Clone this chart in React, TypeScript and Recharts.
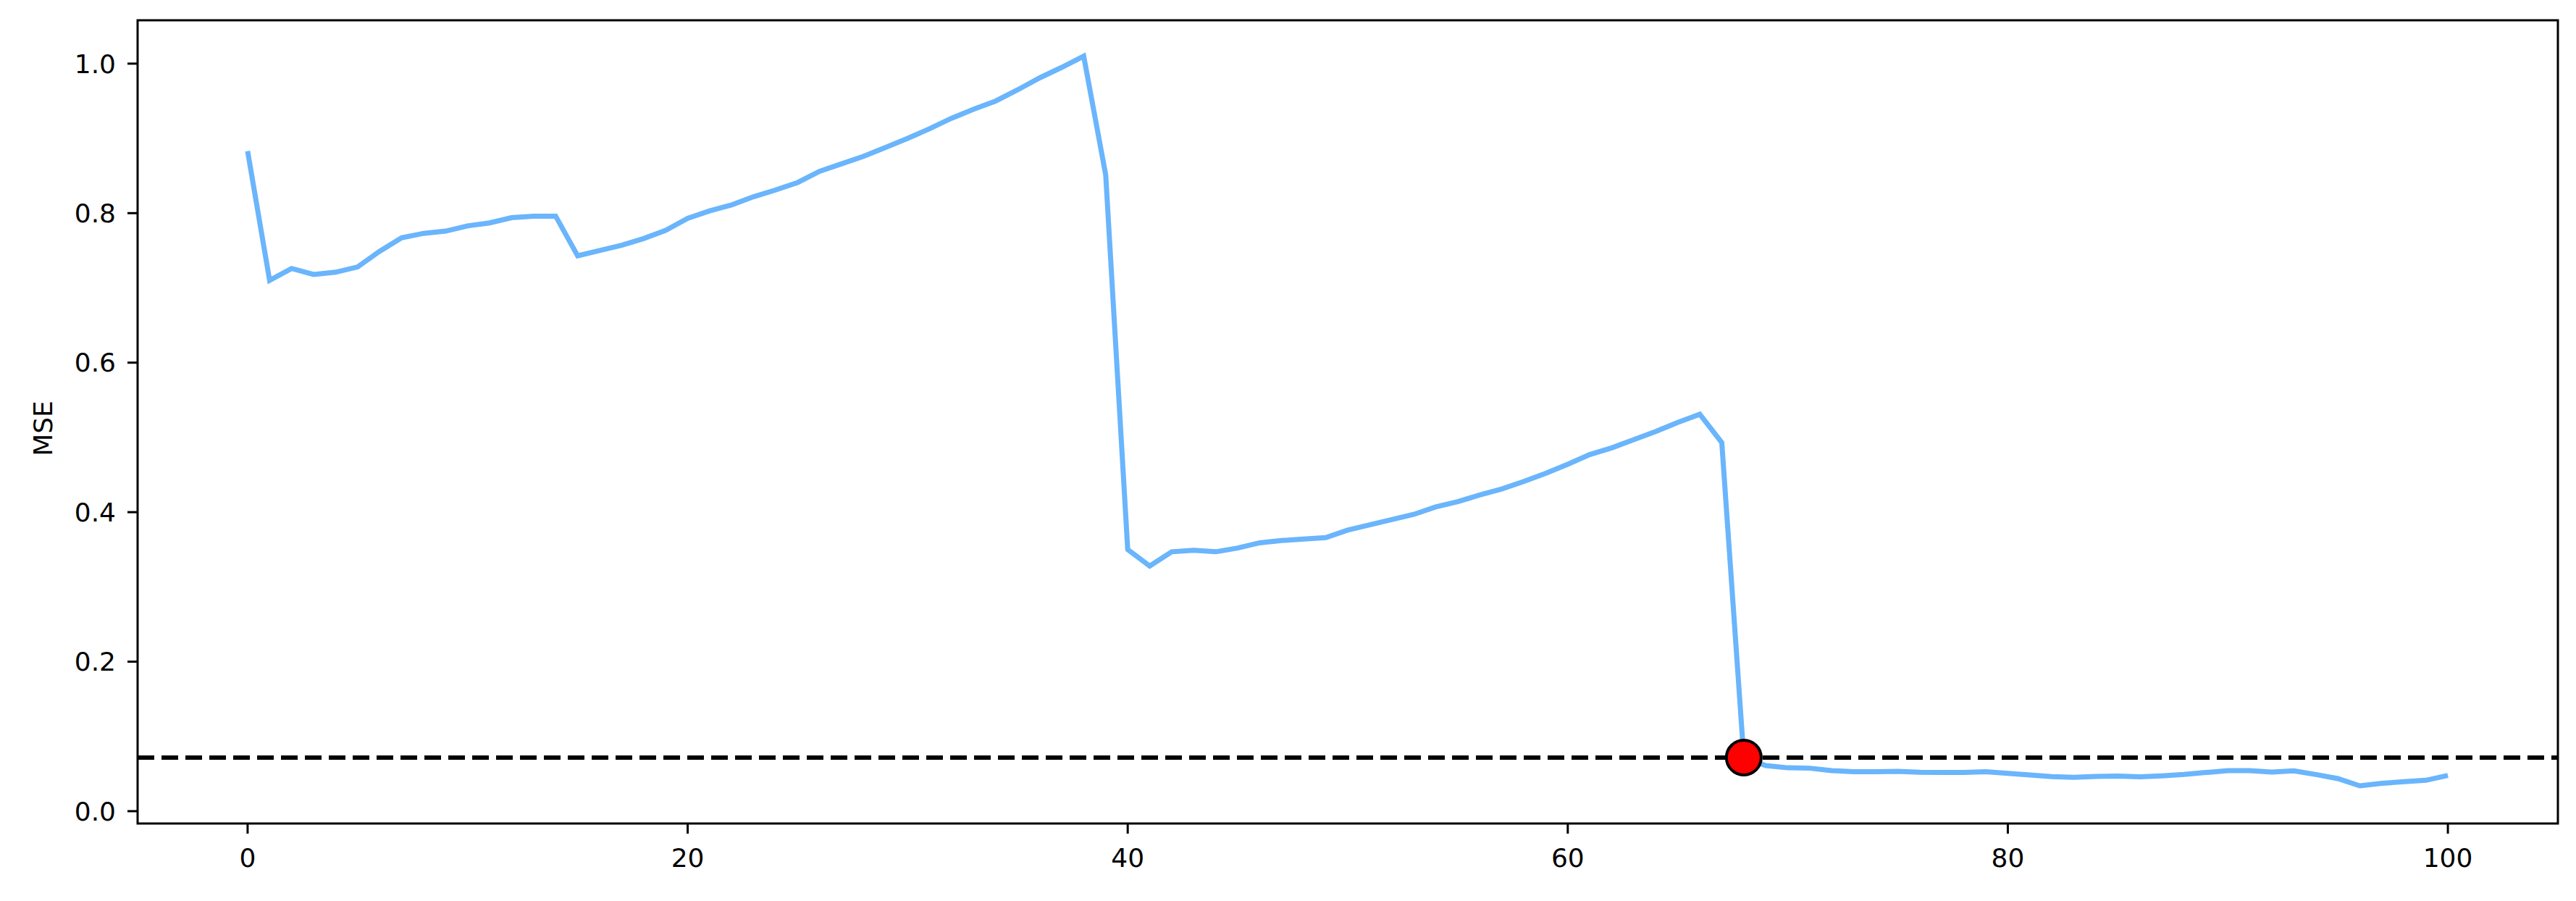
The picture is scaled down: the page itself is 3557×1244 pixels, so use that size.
import React from 'react';
import {
  ComposedChart,
  Line,
  XAxis,
  YAxis,
  ReferenceLine,
  ReferenceArea,
  ReferenceDot,
  Label,
} from 'recharts';

const epochs = [
  0, 1, 2, 3, 4, 5, 6, 7, 8, 9, 10, 11, 12, 13, 14, 15, 16, 17, 18, 19, 20,
  21, 22, 23, 24, 25, 26, 27, 28, 29, 30, 31, 32, 33, 34, 35, 36, 37, 38, 39, 40,
  41, 42, 43, 44, 45, 46, 47, 48, 49, 50, 51, 52, 53, 54, 55, 56, 57, 58, 59, 60,
  61, 62, 63, 64, 65, 66, 67, 68, 69, 70, 71, 72, 73, 74, 75, 76, 77, 78, 79, 80,
  81, 82, 83, 84, 85, 86, 87, 88, 89, 90, 91, 92, 93, 94, 95, 96, 97, 98, 99, 100,
];

const mseValues = [
  0.883, 0.71, 0.726, 0.718, 0.721, 0.728, 0.749, 0.767, 0.773, 0.776, 0.783,
  0.787, 0.794, 0.796, 0.796, 0.743, 0.75, 0.757, 0.766, 0.777, 0.793,
  0.803, 0.811, 0.822, 0.831, 0.841, 0.856, 0.866, 0.876, 0.888, 0.9,
  0.913, 0.927, 0.939, 0.95, 0.965, 0.981, 0.995, 1.01, 0.851, 0.35,
  0.328, 0.347, 0.349, 0.347, 0.352, 0.359, 0.362, 0.364, 0.366, 0.376,
  0.383, 0.39, 0.397, 0.407, 0.414, 0.423, 0.431, 0.441, 0.452, 0.464,
  0.477, 0.486, 0.497, 0.508, 0.52, 0.531, 0.493, 0.0717, 0.061, 0.058,
  0.0575, 0.0543, 0.0527, 0.0527, 0.0533, 0.052, 0.0517, 0.0517, 0.0527, 0.0507,
  0.0484, 0.0462, 0.0452, 0.0465, 0.0469, 0.0459, 0.0472, 0.0491, 0.0517, 0.0543,
  0.0543, 0.0523, 0.054, 0.049, 0.0436, 0.0339, 0.0372, 0.0394, 0.0413, 0.0478,
];

const xTicks = [0, 20, 40, 60, 80, 100];
const yTicks = [0, 0.2, 0.4, 0.6, 0.8, 1.0];
const xDomain = [-5, 105];
const yDomain = [-0.0165, 1.058];

const threshold = 0.0717;
const bestEpoch = 68;

const data = epochs.map((e, i) => ({ x: e, mse: mseValues[i] }));

const FONT = '"DejaVu Sans", sans-serif';
const FS = 36;

const MseLabel = (props: any) => {
  const vb = props.viewBox || { x: 0, y: 0, width: 0, height: 0 };
  const cx = vb.x + vb.width / 2 - 40;
  const cy = vb.y + vb.height / 2 + 9;
  return (
    <text
      x={cx}
      y={cy}
      transform={`rotate(-90, ${cx}, ${cy})`}
      textAnchor="middle"
      dominantBaseline="central"
      fontFamily={FONT}
      fontSize={FS}
      fill="#000"
    >
      MSE
    </text>
  );
};

export default function App() {
  return (
    <div style={{ width: 3549, height: 1236, background: '#fff' }}>
      <ComposedChart
        width={3549}
        height={1236}
        data={data}
        margin={{ top: 20, right: 25, left: 0, bottom: 0 }}
      >
        <XAxis
          dataKey="x"
          type="number"
          domain={xDomain}
          ticks={xTicks}
          allowDataOverflow
          height={107}
          axisLine={false}
          tickLine={{ stroke: '#000', strokeWidth: 3 }}
          tickSize={14}
          tickMargin={20}
          tick={{ fill: '#000', fontSize: FS, fontFamily: FONT }}
        />
        <YAxis
          type="number"
          domain={yDomain}
          ticks={yTicks}
          allowDataOverflow
          width={182}
          axisLine={false}
          tickLine={{ stroke: '#000', strokeWidth: 3 }}
          tickSize={14}
          tickMargin={16}
          tickFormatter={(v: number) => v.toFixed(1)}
          tick={{ fill: '#000', fontSize: FS, fontFamily: FONT }}
        >
          <Label content={MseLabel} position="center" />
        </YAxis>
        <ReferenceArea
          x1={xDomain[0]}
          x2={xDomain[1]}
          y1={yDomain[0]}
          y2={yDomain[1]}
          fill="none"
          fillOpacity={0}
          stroke="#000"
          strokeWidth={3}
          ifOverflow="visible"
        />
        <Line
          type="linear"
          dataKey="mse"
          stroke="#6ab5fc"
          strokeWidth={7}
          strokeLinejoin="miter"
          dot={false}
          activeDot={false}
          isAnimationActive={false}
        />
        <ReferenceLine
          y={threshold}
          stroke="#000"
          strokeWidth={6}
          strokeDasharray="23 10"
        />
        <ReferenceDot
          x={bestEpoch}
          y={threshold}
          r={24}
          fill="#ff0000"
          stroke="#000"
          strokeWidth={4}
          ifOverflow="visible"
        />
      </ComposedChart>
    </div>
  );
}
